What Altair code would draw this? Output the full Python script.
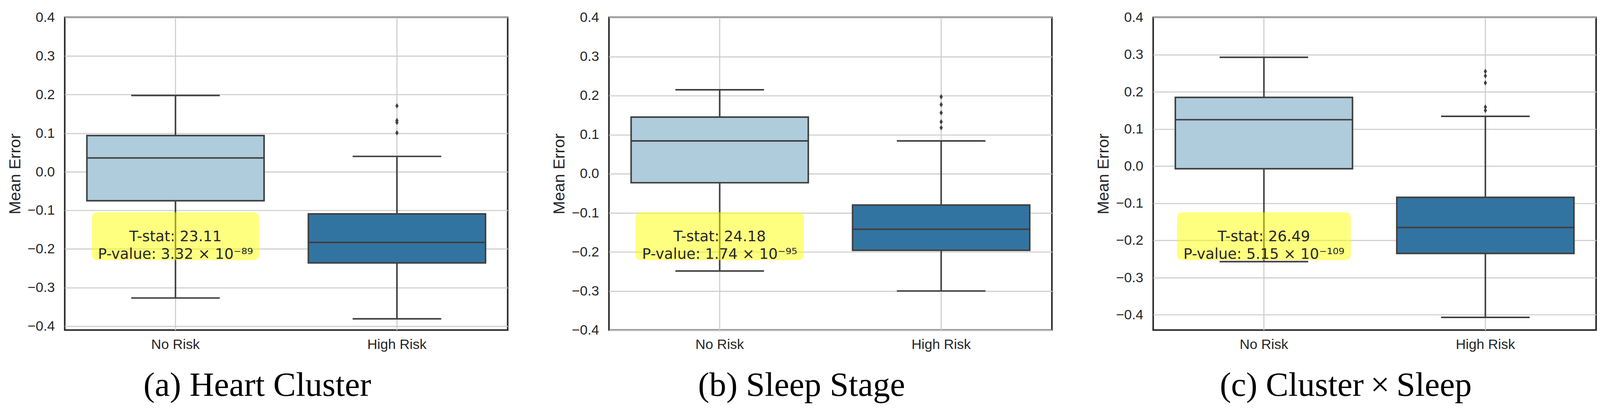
import altair as alt
import pandas as pd

# ---------------- data ----------------
categories = ["No Risk", "High Risk"]
captions = ["(a) Heart Cluster", "(b) Sleep Stage", "(c) Cluster\u2009\u00d7\u2009Sleep"]

# per panel, values for [No Risk, High Risk]
whisker_low = [[-0.327, -0.381], [-0.249, -0.300], [-0.257, -0.407]]
q1_vals = [[-0.075, -0.236], [-0.023, -0.196], [-0.007, -0.235]]
median_vals = [[0.036, -0.183], [0.084, -0.142], [0.125, -0.165]]
q3_vals = [[0.094, -0.109], [0.145, -0.080], [0.185, -0.084]]
whisker_high = [[0.198, 0.040], [0.215, 0.084], [0.293, 0.134]]
outliers_high = [
    [0.171, 0.133, 0.128, 0.101],
    [0.197, 0.177, 0.156, 0.133, 0.118],
    [0.255, 0.243, 0.224, 0.159, 0.150],
]
t_stats = ["23.11", "24.18", "26.49"]
p_values = ["3.32 \u00d7 10\u207b\u2078\u2079", "1.74 \u00d7 10\u207b\u2079\u2075", "5.15 \u00d7 10\u207b\u00b9\u2070\u2079"]
y_domains = [[-0.41, 0.4], [-0.4, 0.4], [-0.441, 0.4]]
y_ticks = [-0.4, -0.3, -0.2, -0.1, 0.0, 0.1, 0.2, 0.3, 0.4]

# ---------------- styles ----------------
W, H = 1150, 812
BOX_W = 460
CAP_W = 230
LW = 4
EDGE = "#3f3f3f"
box_colors = ["#aeccdb", "#3274a1"]
annot_w = [434, 437, 451]
annot_h = 124
SANS = "Liberation Sans"
ANN_FONT = "DejaVu Sans"
SERIF = "Liberation Serif"

diamond = "M 0 -1 L 0.6 0 L 0 1 L -0.6 0 Z"


def rounded_rect(w, h, r):
    hx = 1.0
    hy = h / w
    rr = 2 * r / w
    return (
        f"M {-hx + rr} {-hy} L {hx - rr} {-hy} Q {hx} {-hy} {hx} {-hy + rr} "
        f"L {hx} {hy - rr} Q {hx} {hy} {hx - rr} {hy} L {-hx + rr} {hy} "
        f"Q {-hx} {hy} {-hx} {hy - rr} L {-hx} {-hy + rr} Q {-hx} {-hy} {-hx + rr} {-hy} Z"
    )


def panel(i):
    box_df = pd.DataFrame({
        "cat": categories,
        "low": whisker_low[i],
        "q1": q1_vals[i],
        "med": median_vals[i],
        "q3": q3_vals[i],
        "high": whisker_high[i],
    })
    out_df = pd.DataFrame({"cat": ["High Risk"] * len(outliers_high[i]), "v": outliers_high[i]})
    lo, hi = y_domains[i]
    ann_df = pd.DataFrame({
        "cat": ["No Risk"],
        "v": [lo + 0.3 * (hi - lo)],
        "label": [f"T-stat: {t_stats[i]}\nP-value: {p_values[i]}"],
    })

    xenc = alt.X("cat:N", sort=categories, title=None,
                 scale=alt.Scale(domain=categories, paddingInner=0, paddingOuter=0),
                 axis=alt.Axis(labelAngle=0, grid=True, bandPosition=0.5, labelPadding=21))
    yscale = alt.Scale(domain=y_domains[i], nice=False, zero=False)
    yaxis = alt.Axis(values=y_ticks, format=".1f", grid=True, labelPadding=26, titlePadding=10)

    base = alt.Chart(box_df)
    whisk = base.mark_rule(color=EDGE, strokeWidth=LW).encode(
        x=xenc, y=alt.Y("low:Q", scale=yscale, axis=yaxis, title="Mean Error"), y2="high:Q")
    box = base.mark_bar(size=BOX_W, stroke=EDGE, strokeWidth=LW, opacity=1).encode(
        x=xenc, y=alt.Y("q1:Q"), y2="q3:Q",
        color=alt.Color("cat:N", scale=alt.Scale(domain=categories, range=box_colors), legend=None))
    med = base.mark_tick(size=BOX_W, thickness=LW, color=EDGE, opacity=1).encode(x=xenc, y="med:Q")
    cap_lo = base.mark_tick(size=CAP_W, thickness=LW, color=EDGE, opacity=1).encode(x=xenc, y="low:Q")
    cap_hi = base.mark_tick(size=CAP_W, thickness=LW, color=EDGE, opacity=1).encode(x=xenc, y="high:Q")
    outs = alt.Chart(out_df).mark_point(shape=diamond, size=196, filled=True, color=EDGE, opacity=1,
                                        strokeWidth=0).encode(x=xenc, y="v:Q")
    ann_box = alt.Chart(ann_df).mark_point(
        shape=rounded_rect(annot_w[i], annot_h, 15), size=annot_w[i] ** 2, filled=True,
        color="#ffff00", opacity=0.5, strokeWidth=0).encode(x=xenc, y="v:Q")
    ann_txt = alt.Chart(ann_df).mark_text(
        font=ANN_FONT, fontSize=38, color="#262626", align="center", baseline="middle",
        lineBreak="\n", lineHeight=46, dy=2).encode(x=xenc, y="v:Q", text="label:N")

    return alt.layer(whisk, box, med, cap_lo, cap_hi, outs, ann_box, ann_txt).properties(
        width=W, height=H,
        title=alt.TitleParams(captions[i], orient="bottom", frame="bounds", anchor="middle",
                              font=SERIF, fontSize=88, fontWeight="normal", color="black", offset=45),
    )


chart = alt.hconcat(*[panel(i) for i in range(3)], spacing=108).properties(
    padding={"left": 7, "top": 10, "right": 0, "bottom": 0},
    background="white",
).configure_view(
    stroke="#262626", strokeWidth=4
).configure_axis(
    domain=False, ticks=False,
    labelFont=SANS, labelFontSize=36, labelColor="#262626",
    titleFont=SANS, titleFontSize=42, titleColor="#262626", titleFontWeight="normal",
    gridColor="#cccccc", gridWidth=2.7, gridOpacity=1,
)

chart.save("out.html", embed_options={"renderer": "svg", "actions": False})
